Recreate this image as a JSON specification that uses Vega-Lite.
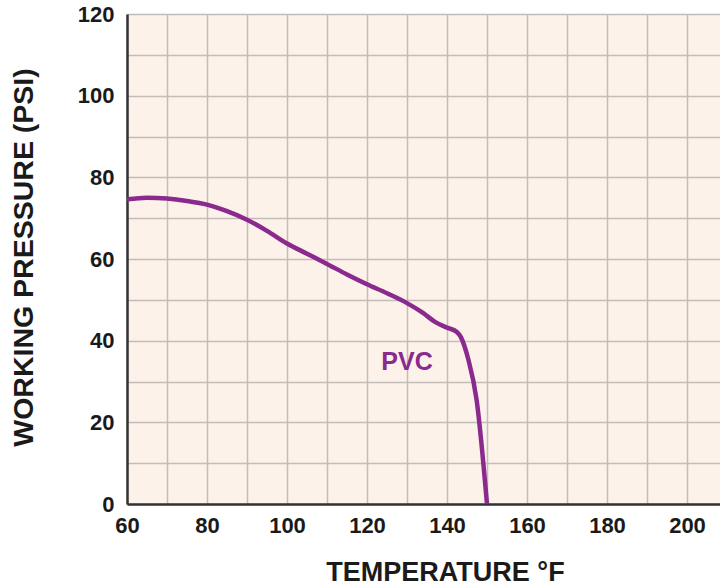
{
  "$schema": "https://vega.github.io/schema/vega-lite/v6.json",
  "autosize": {"type": "none"},
  "padding": {"left": 127, "top": 14, "right": 0, "bottom": 83},
  "width": 593,
  "height": 490,
  "background": "white",
  "config": {
    "view": {"stroke": null, "fill": "#fdf2ea"},
    "font": "Liberation Sans"
  },
  "datasets": {
    "pvc": [
      {"T": 60, "P": 74.6}, {"T": 65, "P": 75.0}, {"T": 70, "P": 74.8}, {"T": 75, "P": 74.2},
      {"T": 80, "P": 73.3}, {"T": 85, "P": 71.7}, {"T": 90, "P": 69.6}, {"T": 95, "P": 66.9},
      {"T": 100, "P": 63.8}, {"T": 105, "P": 61.3}, {"T": 110, "P": 58.8}, {"T": 115, "P": 56.2},
      {"T": 120, "P": 53.8}, {"T": 125, "P": 51.6}, {"T": 130, "P": 49.2}, {"T": 134, "P": 46.8},
      {"T": 137, "P": 44.6}, {"T": 140, "P": 43.2}, {"T": 142.4, "P": 42.2}, {"T": 143.5, "P": 40.8},
      {"T": 145.3, "P": 35.5}, {"T": 147.4, "P": 25.5}, {"T": 150, "P": 0}
    ],
    "labels": [{"T": 130, "P": 34.8, "label": "PVC"}]
  },
  "layer": [
    {
      "data": {"name": "pvc"},
      "mark": {"type": "line", "color": "#8b2a8e", "strokeWidth": 4.5, "interpolate": "monotone", "clip": true},
      "encoding": {
        "x": {
          "field": "T", "type": "quantitative",
          "scale": {"domain": [60, 208.25], "nice": false, "zero": false},
          "axis": {
            "title": "TEMPERATURE °F",
            "values": [60, 70, 80, 90, 100, 110, 120, 130, 140, 150, 160, 170, 180, 190, 200],
            "labelExpr": "datum.value % 20 === 0 ? datum.label : ''",
            "ticks": false,
            "grid": true, "gridColor": "#c2bdb9", "gridWidth": 1.5, "gridOpacity": 1,
            "domainColor": "#333333", "domainWidth": 2.5,
            "labelFont": "Liberation Sans", "labelFontWeight": "bold", "labelFontSize": 22, "labelColor": "#1a1a1a",
            "labelPadding": 11, "labelFlush": false, "labelOverlap": false,
            "titleFont": "Liberation Sans", "titleFontWeight": "bold", "titleFontSize": 27, "titleColor": "#1a1a1a",
            "titleX": 318, "titleY": 76, "titleBaseline": "alphabetic", "titleAnchor": "middle", "titleAlign": "center"
          }
        },
        "y": {
          "field": "P", "type": "quantitative",
          "scale": {"domain": [0, 120], "nice": false},
          "axis": {
            "title": "WORKING PRESSURE (PSI)",
            "values": [0, 10, 20, 30, 40, 50, 60, 70, 80, 90, 100, 110, 120],
            "labelExpr": "datum.value % 20 === 0 ? datum.label : ''",
            "ticks": false,
            "grid": true, "gridColor": "#c2bdb9", "gridWidth": 1.5, "gridOpacity": 1,
            "domainColor": "#333333", "domainWidth": 2.5,
            "labelFont": "Liberation Sans", "labelFontWeight": "bold", "labelFontSize": 22, "labelColor": "#1a1a1a",
            "labelPadding": 13, "labelFlush": false, "labelOverlap": false,
            "titleFont": "Liberation Sans", "titleFontWeight": "bold", "titleFontSize": 28.5, "titleColor": "#1a1a1a",
            "titleX": -104, "titleY": 243, "titleBaseline": "middle", "titleAnchor": "middle", "titleAlign": "center", "titleAngle": -90
          }
        }
      }
    },
    {
      "mark": {"type": "rule", "color": "#333333", "strokeWidth": 2.5},
      "encoding": {"y": {"datum": 120}}
    },
    {
      "data": {"name": "labels"},
      "mark": {"type": "text", "color": "#8b2a8e", "fontSize": 25, "fontWeight": "bold", "font": "Liberation Sans", "align": "center", "baseline": "middle"},
      "encoding": {
        "x": {"field": "T", "type": "quantitative"},
        "y": {"field": "P", "type": "quantitative"},
        "text": {"field": "label"}
      }
    }
  ]
}
